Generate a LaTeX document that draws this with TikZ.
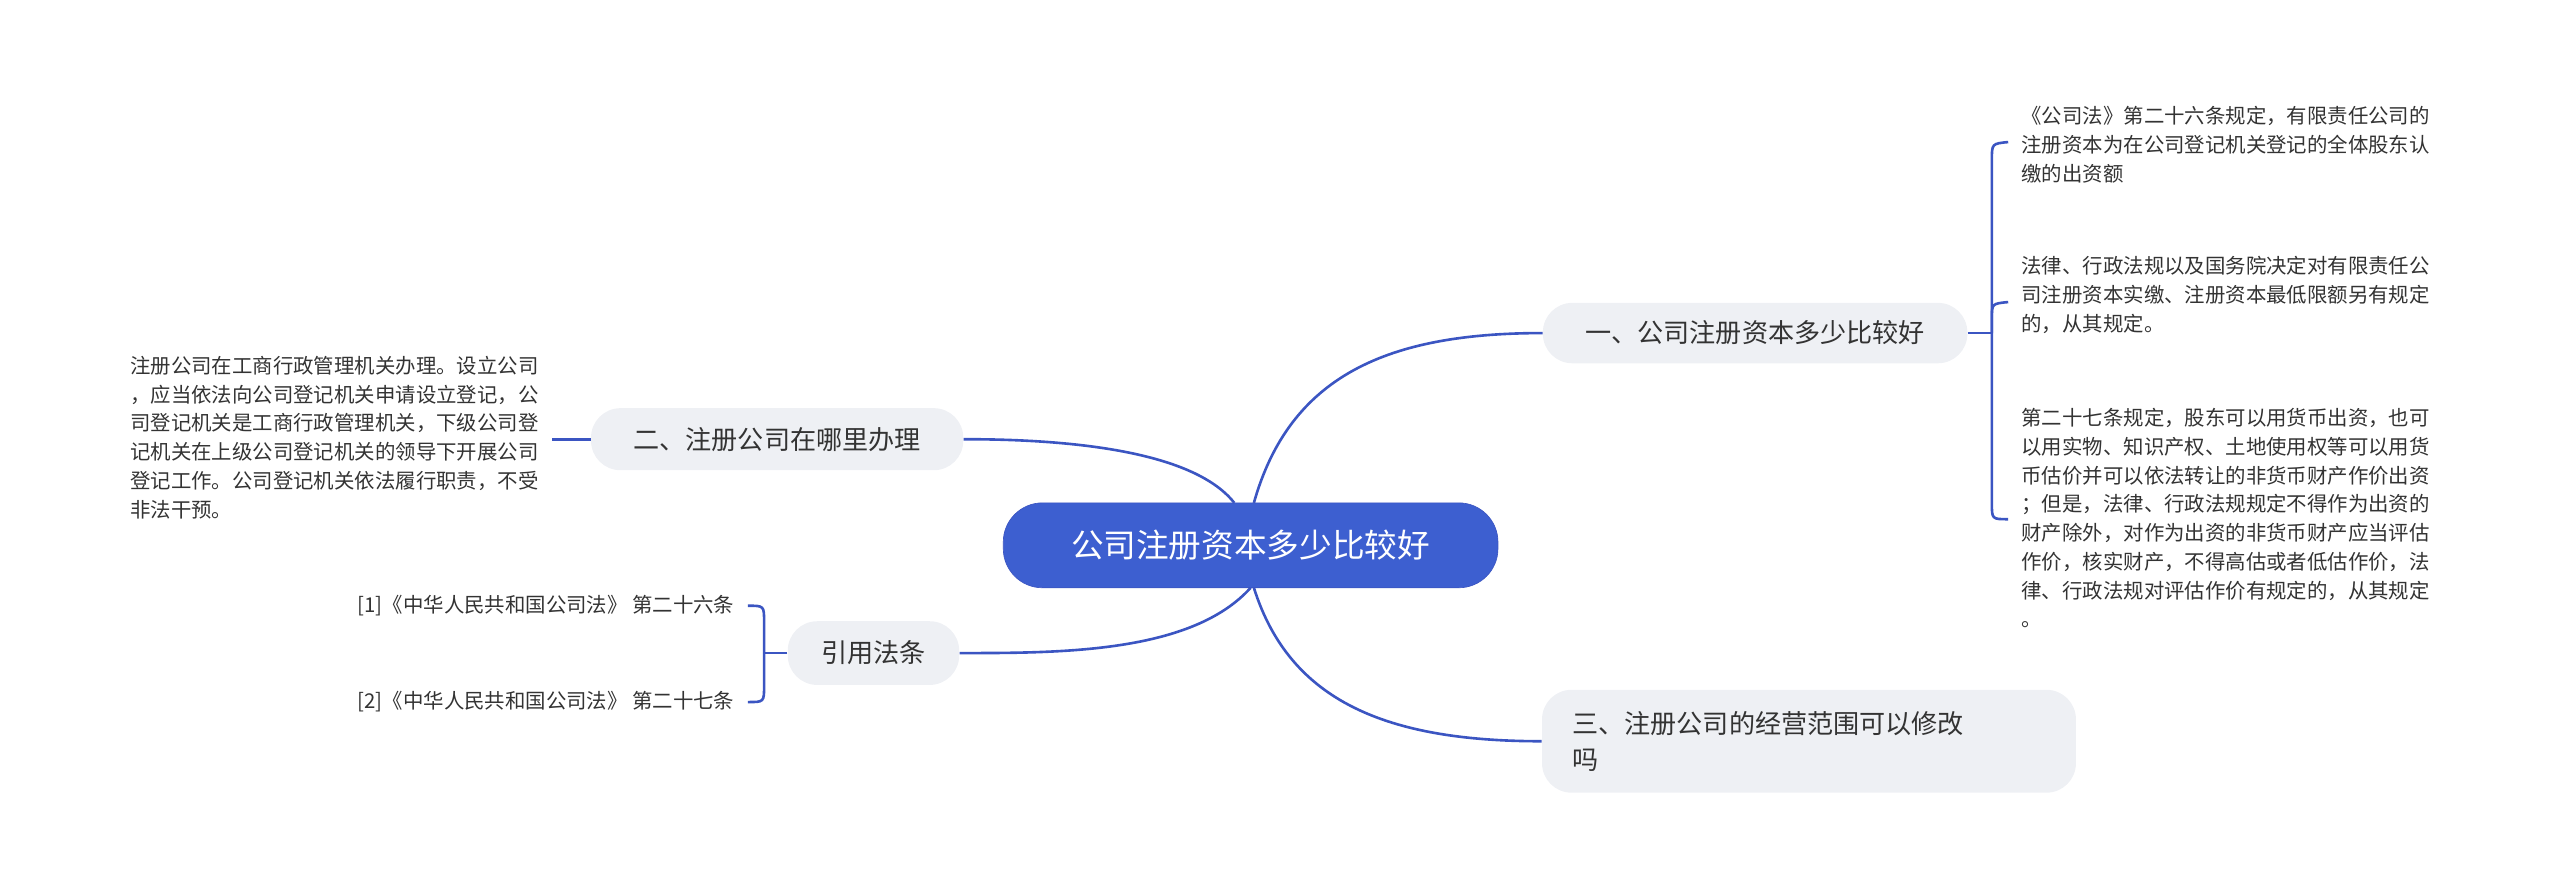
\documentclass[tikz,border=0pt]{standalone}
\usepackage{fontspec}
\setmainfont{Noto Sans CJK SC}
\definecolor{ln}{HTML}{3B55C2}
\definecolor{cb}{HTML}{3D5FD0}
\definecolor{sb}{HTML}{EEF0F4}
\definecolor{tx}{HTML}{333333}
\begin{document}
\begin{tikzpicture}[x=1pt,y=-1pt,
 sub/.style={fill=sb,rounded corners=18pt,text=tx,font=\fontsize{16}{22}\selectfont,inner sep=0pt},
 leaf/.style={text=tx,font=\fontsize{12.5}{17.6}\selectfont,align=left,inner sep=0pt},
 con/.style={draw=ln,line width=1.6pt}]
\useasboundingbox (0,0) rectangle (1568,542);
\node[fill=cb,rounded corners=24pt,minimum width=303pt,minimum height=52pt,text=white,font=\fontsize{20}{24}\selectfont,draw=ln] (c) at (766,334) {公司注册资本多少比较好};
\node[sub,minimum width=260pt,minimum height=37pt] (r1) at (1075,204) {一、公司注册资本多少比较好};
\node[sub,minimum width=327pt,minimum height=63pt,align=left,text width=290pt] (r3) at (1108,454) {三、注册公司的经营范围可以修改\\吗};
\node[sub,minimum width=228pt,minimum height=38pt] (l1) at (476,269) {二、注册公司在哪里办理};
\node[sub,minimum width=105pt,minimum height=39pt] (l2) at (535,400) {引用法条};
\draw[con] (768,308) .. controls (790,230) and (850,204) .. (r1.west);
\draw[con] (768,360) .. controls (790,430) and (850,454) .. (r3.west);
\draw[con] (756,308) .. controls (730,275) and (650,269) .. (l1.east);
\draw[con] (766,360) .. controls (730,400) and (650,400) .. (l2.east);
% right leaves
\node[leaf,anchor=north west] (t1) at (1238,65) {《公司法》第二十六条规定，有限责任公司的\\注册资本为在公司登记机关登记的全体股东认\\缴的出资额};
\node[leaf,anchor=north west] (t2) at (1238,157) {法律、行政法规以及国务院决定对有限责任公\\司注册资本实缴、注册资本最低限额另有规定\\的，从其规定。};
\node[leaf,anchor=north west] (t3) at (1238,250) {第二十七条规定，股东可以用货币出资，也可\\以用实物、知识产权、土地使用权等可以用货\\币估价并可以依法转让的非货币财产作价出资\\；但是，法律、行政法规规定不得作为出资的\\财产除外，对作为出资的非货币财产应当评估\\作价，核实财产，不得高估或者低估作价，法\\律、行政法规对评估作价有规定的，从其规定\\。};
\coordinate (rb) at (1220,204);
\draw[con] (r1.east) -- (rb);
\draw[con] (rb) -- (1220,98) .. controls (1220,88) .. (1230,87);
\draw[con] (rb) -- (1220,195) .. controls (1220,186) .. (1230,185);
\draw[con] (rb) -- (1220,308) .. controls (1220,318) .. (1230,318);
% left leaves
\node[leaf,anchor=north east] (t4) at (330,218) {注册公司在工商行政管理机关办理。设立公司\\，应当依法向公司登记机关申请设立登记，公\\司登记机关是工商行政管理机关，下级公司登\\记机关在上级公司登记机关的领导下开展公司\\登记工作。公司登记机关依法履行职责，不受\\非法干预。};
\draw[con] (l1.west) -- (338,269);
\node[leaf,anchor=east] (t5) at (450,371) {[1]《中华人民共和国公司法》 第二十六条};
\node[leaf,anchor=east] (t6) at (450,430) {[2]《中华人民共和国公司法》 第二十七条};
\coordinate (lb) at (468,400);
\draw[con] (l2.west) -- (lb);
\draw[con] (lb) -- (468,381) .. controls (468,371) .. (458,371);
\draw[con] (lb) -- (468,420) .. controls (468,430) .. (458,430);
\end{tikzpicture}
\end{document}
